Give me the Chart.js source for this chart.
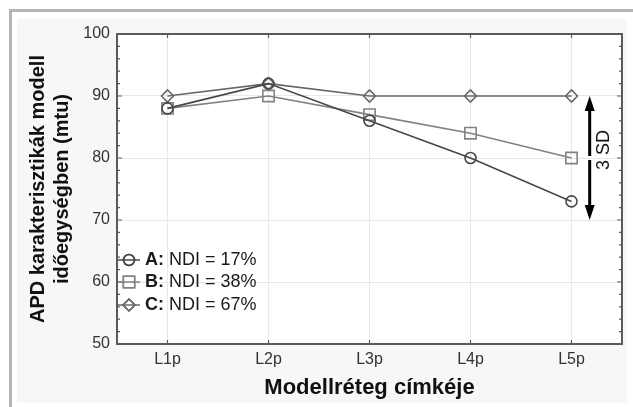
<!DOCTYPE html>
<html>
<head>
<meta charset="utf-8">
<script src="https://cdn.jsdelivr.net/npm/chart.js@4.4.0/dist/chart.umd.min.js"></script>
<style>
html, body { margin: 0; padding: 0; background: #fff; overflow: hidden; }
#frame { position: absolute; left: 9px; top: 9px; width: 640px; height: 420px; border-left: 3px solid #b4b4b4; border-top: 3px solid #b4b4b4; }
#panel { position: absolute; left: 17px; top: 19px; width: 610px; height: 384px; background: #f7f7f7; }
#wrap { position: absolute; left: 0; top: 0; width: 633px; height: 407px; }
</style>
</head>
<body>
<div id="frame"></div>
<div id="panel"></div>
<div id="wrap"><canvas id="apdChart" width="633" height="407"></canvas></div>
<script>
// Adatok
const labels = ['L1p', 'L2p', 'L3p', 'L4p', 'L5p'];
const seriesA = [88, 92, 86, 80, 73];
const seriesB = [88, 90, 87, 84, 80];
const seriesC = [90, 92, 90, 90, 90];
const legendKeys = ['A:', 'B:', 'C:'];
const legendTexts = ['NDI = 17%', 'NDI = 38%', 'NDI = 67%'];
const yTicks = [50, 60, 70, 80, 90, 100];
const sdTop = 90;
const sdBottom = 70;
const sdLabel = '3 SD';

const FONT = '"Liberation Sans", Arial, sans-serif';
Chart.defaults.font.family = FONT;

const colA = '#474747';
const colB = '#828282';
const colC = '#686868';

// Fehér háttér a rajzterületnek
const plotBg = {
    id: 'plotBg',
    beforeDraw(chart) {
        const { ctx, chartArea: a } = chart;
        ctx.save();
        ctx.fillStyle = '#fff';
        ctx.fillRect(a.left, a.top, a.right - a.left, a.bottom - a.top);
        ctx.restore();
    }
};

// Keret és belső osztásjelek
const frame = {
    id: 'frame',
    afterDatasetsDraw(chart) {
        const { ctx, chartArea: a, scales } = chart;
        const ys = scales.y, xs = scales.x;
        ctx.save();
        ctx.strokeStyle = '#5a5a5a';
        ctx.lineWidth = 1.2;
        for (let v = yTicks[0]; v <= yTicks[yTicks.length - 1]; v += 2) {
            const y = ys.getPixelForValue(v);
            const len = v % 10 === 0 ? 5 : 3;
            ctx.beginPath();
            ctx.moveTo(a.left, y); ctx.lineTo(a.left + len, y);
            ctx.moveTo(a.right, y); ctx.lineTo(a.right - len, y);
            ctx.stroke();
        }
        labels.forEach((l, i) => {
            const x = xs.getPixelForValue(i);
            ctx.beginPath();
            ctx.moveTo(x, a.top); ctx.lineTo(x, a.top + 4);
            ctx.moveTo(x, a.bottom); ctx.lineTo(x, a.bottom - 4);
            ctx.stroke();
        });
        ctx.lineWidth = 2;
        ctx.strokeRect(a.left, a.top, a.right - a.left, a.bottom - a.top);
        ctx.restore();
    }
};

// Saját jelmagyarázat (félkövér betűjel + normál szöveg)
const customLegend = {
    id: 'customLegend',
    afterDraw(chart) {
        const { ctx, chartArea: a } = chart;
        const rows = [226, 248, 271];
        ctx.save();
        chart.data.datasets.forEach((ds, i) => {
            const y = a.top + rows[i];
            const x0 = a.left + 1;
            ctx.strokeStyle = ds.borderColor;
            ctx.lineWidth = 1.5;
            ctx.beginPath();
            ctx.moveTo(x0, y); ctx.lineTo(x0 + 22, y);
            ctx.stroke();
            ctx.fillStyle = 'rgba(0,0,0,0)';
            Chart.helpers.drawPoint(ctx, {
                pointStyle: ds.pointStyle,
                radius: ds.pointRadius,
                rotation: 0,
                borderWidth: 1.5
            }, x0 + 11, y);
            ctx.stroke();
            ctx.fillStyle = '#1a1a1a';
            ctx.textBaseline = 'middle';
            ctx.textAlign = 'left';
            ctx.font = 'bold 18px ' + FONT;
            ctx.fillText(legendKeys[i], x0 + 27, y);
            const w = ctx.measureText(legendKeys[i] + ' ').width;
            ctx.font = '18px ' + FONT;
            ctx.fillText(legendTexts[i], x0 + 27 + w, y);
        });
        ctx.restore();
    }
};

// 3 SD nyíl
const sdArrow = {
    id: 'sdArrow',
    afterDraw(chart) {
        const { ctx, scales } = chart;
        const xs = scales.x, ys = scales.y;
        const step = xs.getPixelForValue(1) - xs.getPixelForValue(0);
        const x = xs.getPixelForValue(labels.length - 1) + 0.18 * step;
        const yT = ys.getPixelForValue(sdTop);
        const yB = ys.getPixelForValue(sdBottom);
        const yM = ys.getPixelForValue((sdTop + sdBottom) / 2);
        ctx.save();
        ctx.strokeStyle = '#000';
        ctx.fillStyle = '#000';
        ctx.lineWidth = 3;
        ctx.beginPath();
        ctx.moveTo(x, yT + 12); ctx.lineTo(x, yM - 2);
        ctx.moveTo(x, yM + 2); ctx.lineTo(x, yB - 12);
        ctx.stroke();
        ctx.beginPath();
        ctx.moveTo(x, yT); ctx.lineTo(x - 5, yT + 15); ctx.lineTo(x + 5, yT + 15); ctx.closePath();
        ctx.moveTo(x, yB); ctx.lineTo(x - 5, yB - 15); ctx.lineTo(x + 5, yB - 15); ctx.closePath();
        ctx.fill();
        ctx.translate(x + 14, ys.getPixelForValue(81.3));
        ctx.rotate(-Math.PI / 2);
        ctx.font = '18px ' + FONT;
        ctx.fillStyle = '#111';
        ctx.textAlign = 'center';
        ctx.textBaseline = 'middle';
        ctx.fillText(sdLabel, 0, 0);
        ctx.restore();
    }
};

function makeSet(label, data, color, style, radius) {
    return {
        label: label,
        data: data,
        borderColor: color,
        borderWidth: 1.6,
        backgroundColor: 'rgba(0,0,0,0)',
        pointStyle: style,
        pointRadius: radius,
        pointBorderWidth: 1.6,
        pointBorderColor: color,
        pointBackgroundColor: 'rgba(0,0,0,0)',
        tension: 0
    };
}

document.addEventListener('DOMContentLoaded', function() {
    const ctx = document.getElementById('apdChart');
    new Chart(ctx, {
        type: 'line',
        data: {
            labels: labels,
            datasets: [
                makeSet('A', seriesA, colA, 'circle', 5.5),
                makeSet('B', seriesB, colB, 'rect', 8),
                makeSet('C', seriesC, colC, 'rectRot', 6)
            ]
        },
        options: {
            responsive: false,
            animation: false,
            layout: { padding: { top: 34, right: 11, left: 0, bottom: 0 } },
            plugins: {
                legend: { display: false },
                tooltip: { enabled: false }
            },
            scales: {
                x: {
                    offset: true,
                    grid: { color: '#e8e8e8', drawTicks: false },
                    border: { display: false },
                    ticks: { padding: 6, color: '#333', font: { size: 16 } },
                    title: {
                        display: true,
                        text: 'Modellréteg címkéje',
                        color: '#111',
                        font: { size: 22, weight: 'bold' },
                        padding: { top: 0, bottom: 6 }
                    },
                    afterFit: s => { s.height = 63; }
                },
                y: {
                    min: yTicks[0],
                    max: yTicks[yTicks.length - 1],
                    afterBuildTicks: s => { s.ticks = yTicks.map(v => ({ value: v })); },
                    grid: { color: '#e8e8e8', drawTicks: false },
                    border: { display: false },
                    ticks: { padding: 7, color: '#333', font: { size: 16 } },
                    title: {
                        display: true,
                        text: ['APD karakterisztikák modell', 'időegységben (mtu)'],
                        color: '#111',
                        font: { size: 20, weight: 'bold' },
                        padding: { top: 26, bottom: 0 }
                    },
                    afterFit: s => { s.width = 117; }
                }
            }
        },
        plugins: [plotBg, frame, customLegend, sdArrow]
    });
});
</script>
</body>
</html>
